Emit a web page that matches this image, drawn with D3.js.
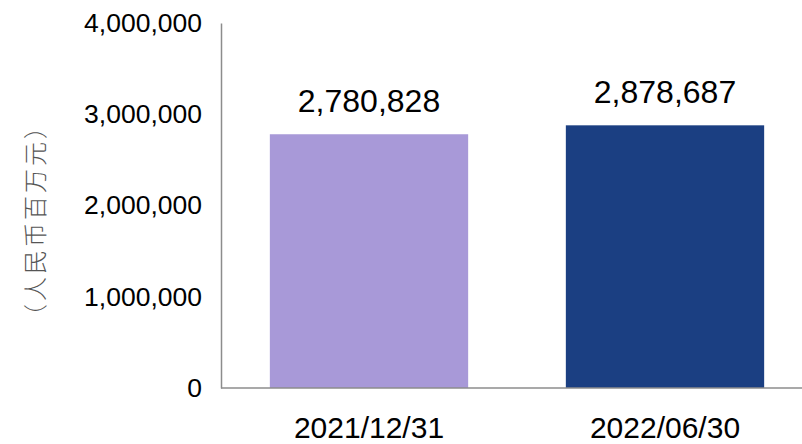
<!DOCTYPE html>
<html>
<head>
<meta charset="utf-8">
<script src="https://cdn.jsdelivr.net/npm/d3@7/dist/d3.min.js"></script>
<style>
  html, body { margin: 0; padding: 0; background: #fff; }
  svg { display: block; }
</style>
</head>
<body>
<svg id="chart" width="802" height="444"></svg>
<script>
// Period-end balances (RMB millions)
const categories = ["2021/12/31", "2022/06/30"];
const values = [2780828, 2878687];
const barColors = ["#a899d8", "#1b3f82"];
const yTicks = [0, 1000000, 2000000, 3000000, 4000000];
const yTitle = "（人民币百万元）";

const svg = d3.select("#chart");
const W = 802;
const plotLeft = 221, plotTop = 23, plotBottom = 388;

const y = d3.scaleLinear().domain([0, 4000000]).range([plotBottom, plotTop]);
const x = d3.scaleBand()
  .domain(categories)
  .range([plotLeft, 813])
  .paddingInner(0.33)
  .paddingOuter(0.165);

const fmt = d3.format(",");
const latin = "Liberation Sans, Arial, sans-serif";

// Bars
svg.append("g").selectAll("rect")
  .data(values)
  .join("rect")
  .attr("x", (d, i) => x(categories[i]))
  .attr("width", x.bandwidth())
  .attr("y", d => y(d))
  .attr("height", d => y(0) - y(d))
  .attr("fill", (d, i) => barColors[i]);

// Value labels above bars
svg.append("g").selectAll("text")
  .data(values)
  .join("text")
  .attr("x", (d, i) => x(categories[i]) + x.bandwidth() / 2)
  .attr("y", d => y(d) - 22)
  .attr("text-anchor", "middle")
  .attr("font-family", latin)
  .attr("font-size", 32)
  .attr("fill", "#000")
  .text(d => fmt(d));

// Y axis: line plus labels, no tick marks
const yAxis = svg.append("g")
  .attr("transform", `translate(${plotLeft},0)`)
  .call(d3.axisLeft(y).tickValues(yTicks).tickFormat(fmt).tickSize(0).tickPadding(19));
yAxis.select(".domain").attr("stroke", "#8c8c8c").attr("stroke-width", 1.5);
yAxis.selectAll("text")
  .attr("font-family", latin)
  .attr("font-size", 26.5)
  .attr("fill", "#000");

// X axis baseline
svg.append("line")
  .attr("x1", plotLeft).attr("x2", W)
  .attr("y1", y(0)).attr("y2", y(0))
  .attr("stroke", "#8c8c8c").attr("stroke-width", 1.5);

// Category labels
const xAxis = svg.append("g")
  .attr("transform", `translate(0,${y(0)})`)
  .call(d3.axisBottom(x).tickSize(0).tickPadding(0));
xAxis.select(".domain").remove();
xAxis.selectAll("text")
  .attr("font-family", latin)
  .attr("font-size", 30)
  .attr("fill", "#000")
  .attr("dy", 0)
  .attr("y", 49.5);

// Y axis title, rotated
svg.append("text")
  .attr("transform", "translate(33,220) rotate(-90)")
  .attr("text-anchor", "middle")
  .attr("dominant-baseline", "central")
  .attr("font-family", "Noto Sans CJK SC, sans-serif")
  .attr("font-weight", 300)
  .attr("font-size", 24)
  .attr("letter-spacing", 3)
  .attr("fill", "#555")
  .text(yTitle);
</script>
</body>
</html>
